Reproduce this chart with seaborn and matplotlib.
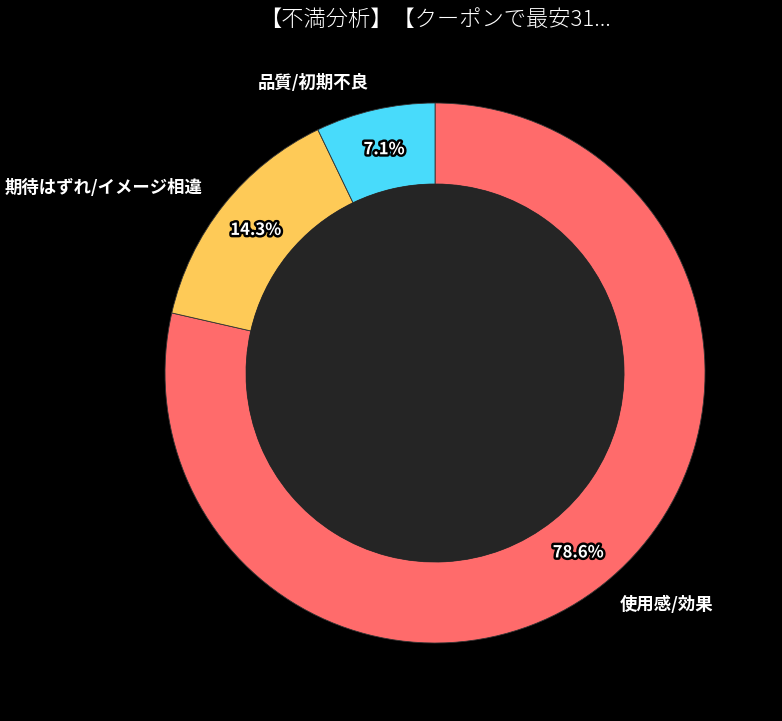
import matplotlib
matplotlib.use("Agg")
import matplotlib.pyplot as plt
import matplotlib.patheffects as pe
import seaborn as sns

# data
categories = ["使用感/効果", "期待はずれ/イメージ相違", "品質/初期不良"]
counts = [11, 2, 1]
colors = ["#FF6B6B", "#FECA57", "#48DBFB"]
title = "【不満分析】【クーポンで最安31..."

sns.set_theme(style="dark")
plt.rcParams["font.family"] = ["Noto Sans CJK JP", "DejaVu Sans"]

fig = plt.figure(figsize=(7.82, 7.21), dpi=100, facecolor="black")
ax = fig.add_axes([0.1247, 0.01456, 0.8632, 0.9362])
ax.set_facecolor("black")

wedges, texts, autotexts = ax.pie(
    counts,
    labels=categories,
    colors=sns.color_palette(colors),
    startangle=90,
    counterclock=False,
    autopct="%1.1f%%",
    pctdistance=0.85,
    labeldistance=1.1,
    wedgeprops=dict(width=0.3, edgecolor="#333333", linewidth=0.6),
    textprops=dict(color="white", fontsize=12.5, fontweight="bold"),
)
for t in autotexts:
    t.set_fontsize(12)
    t.set_color("white")
    t.set_path_effects([pe.withStroke(linewidth=3.5, foreground="black")])

centre = plt.Circle((0, 0), 0.7, facecolor="#252525", edgecolor="none")
ax.add_artist(centre)

ax.set_xlim(-1.25, 1.25)
ax.set_ylim(-1.25, 1.25)
ax.set_aspect("equal")
ax.axis("off")

fig.text(0.556, 0.972, title, color="white", fontsize=16, fontweight="light",
         ha="center", va="center")

fig.savefig("out.png", dpi=100, facecolor="black")
plt.close(fig)
